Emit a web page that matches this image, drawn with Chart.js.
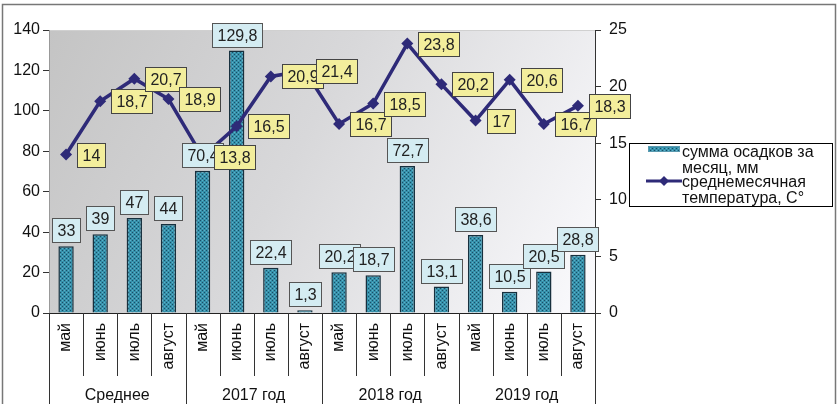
<!DOCTYPE html>
<html>
<head>
<meta charset="utf-8">
<script src="https://cdn.jsdelivr.net/npm/chart.js@4.4.0/dist/chart.umd.min.js"></script>
<style>
  html, body { margin: 0; padding: 0; background: #fff; }
  #wrap { position: relative; width: 838px; height: 404px; }
</style>
</head>
<body>
<div id="wrap"><canvas id="c" width="838" height="404"></canvas></div>
<script>
const categories = ['май','июнь','июль','август','май','июнь','июль','август','май','июнь','июль','август','май','июнь','июль','август'];
const groups = ['Среднее','2017 год','2018 год','2019 год'];
const groupSizes = [4, 4, 4, 4];
const precipitation = [33, 39, 47, 44, 70.4, 129.8, 22.4, 1.3, 20.2, 18.7, 72.7, 13.1, 38.6, 10.5, 20.5, 28.8];
const temperature = [14, 18.7, 20.7, 18.9, 13.8, 16.5, 20.9, 21.4, 16.7, 18.5, 23.8, 20.2, 17, 20.6, 16.7, 18.3];
const precipLabel = ['сумма осадков за', 'месяц, мм'];
const tempLabel = ['среднемесячная', 'температура, С°'];

const FONT = '"Liberation Sans", Arial, sans-serif';
const fmt = v => String(v).replace('.', ',');

// bar pattern
function makePattern() {
  const p = document.createElement('canvas');
  p.width = 4; p.height = 4;
  const g = p.getContext('2d');
  g.fillStyle = '#3590aa'; g.fillRect(0, 0, 4, 4);
  g.fillStyle = '#1a4e66';
  g.fillRect(0, 0, 1, 1); g.fillRect(2, 2, 1, 1);
  g.fillStyle = '#5fb0c8';
  g.fillRect(2, 0, 1, 1); g.fillRect(0, 2, 1, 1);
  return g.createPattern(p, 'repeat');
}
const ctx0 = document.getElementById('c').getContext('2d');
const barPattern = makePattern();

const bgPlugin = {
  id: 'bg',
  beforeDraw(chart) {
    const { ctx, chartArea: a } = chart;
    ctx.save();
    ctx.fillStyle = '#fff';
    ctx.fillRect(0, 0, chart.width, chart.height);
    const gr = ctx.createLinearGradient(a.left, a.top, a.right, a.bottom);
    gr.addColorStop(0, '#c4c4c4');
    gr.addColorStop(0.45, '#d8d8da');
    gr.addColorStop(1, '#fbfbfe');
    ctx.fillStyle = gr;
    ctx.fillRect(a.left, a.top, a.right - a.left, a.bottom - a.top);
    ctx.strokeStyle = '#d0d0d0';
    ctx.lineWidth = 1;
    ctx.beginPath();
    ctx.moveTo(a.left, a.top + 0.5); ctx.lineTo(a.right, a.top + 0.5);
    ctx.stroke();
    ctx.restore();
  }
};

const labelPlugin = {
  id: 'vlabels',
  afterDatasetsDraw(chart) {
    const ctx = chart.ctx;
    ctx.save();
    ctx.font = '16px ' + FONT;
    ctx.textAlign = 'center';
    ctx.textBaseline = 'middle';
    ctx.lineWidth = 1;
    const barMeta = chart.getDatasetMeta(1);
    barMeta.data.forEach((el, i) => {
      const t = fmt(precipitation[i]);
      const w = Math.round(ctx.measureText(t).width + 10);
      const h = 24;
      const left = Math.round(el.x - w / 2) + 0.5;
      const top = Math.round(el.y - 4 - h) + 0.5;
      ctx.fillStyle = '#d4ecf2';
      ctx.fillRect(left, top, w, h);
      ctx.strokeStyle = '#555';
      ctx.strokeRect(left, top, w, h);
      ctx.fillStyle = '#222';
      ctx.fillText(t, left + w / 2, top + h / 2 + 1);
    });
    const lineMeta = chart.getDatasetMeta(0);
    lineMeta.data.forEach((el, i) => {
      const t = fmt(temperature[i]);
      const w = Math.round(ctx.measureText(t).width + 10);
      const h = 24;
      const left = Math.round(el.x + 11) + 0.5;
      const top = Math.round(el.y - h / 2) + 0.5;
      ctx.fillStyle = '#f3ee9c';
      ctx.fillRect(left, top, w, h);
      ctx.strokeStyle = '#444';
      ctx.strokeRect(left, top, w, h);
      ctx.fillStyle = '#222';
      ctx.fillText(t, left + w / 2, top + h / 2 + 1);
    });
    ctx.restore();
  }
};

const framePlugin = {
  id: 'frame',
  afterDraw(chart) {
    const { ctx, chartArea: a } = chart;
    const n = categories.length;
    const cw = (a.right - a.left) / n;
    ctx.save();
    ctx.strokeStyle = '#333';
    ctx.lineWidth = 1;
    const groupBounds = [0];
    groupSizes.forEach(s => groupBounds.push(groupBounds[groupBounds.length - 1] + s));
    for (let i = 0; i <= n; i++) {
      const px = Math.round(a.left + i * cw) + 0.5;
      const isGroup = groupBounds.includes(i);
      ctx.beginPath();
      ctx.moveTo(px, a.bottom);
      ctx.lineTo(px, isGroup ? chart.height : a.bottom + 63);
      ctx.stroke();
    }
    ctx.font = '16px ' + FONT;
    ctx.fillStyle = '#111';
    ctx.textAlign = 'center';
    ctx.textBaseline = 'middle';
    groups.forEach((g, gi) => {
      const cx = a.left + (groupBounds[gi] + groupBounds[gi + 1]) / 2 * cw;
      ctx.fillText(g, cx, 396);
    });
    // legend
    const lx = 629.5, ly = 143.5, lw = 203, lh = 63;
    ctx.fillStyle = '#fff';
    ctx.fillRect(lx, ly, lw, lh);
    ctx.strokeStyle = '#000';
    ctx.strokeRect(lx, ly, lw, lh);
    ctx.fillStyle = barPattern;
    ctx.fillRect(648, 146, 32, 6);
    ctx.strokeStyle = '#5a9ab0';
    ctx.strokeRect(648.5, 146.5, 31, 5);
    ctx.fillStyle = '#111';
    ctx.textAlign = 'left';
    ctx.font = '16px ' + FONT;
    ctx.fillText(precipLabel[0], 682, 153);
    ctx.fillText(precipLabel[1], 682, 169);
    ctx.strokeStyle = '#2e2a78';
    ctx.lineWidth = 3;
    ctx.beginPath();
    ctx.moveTo(646, 181); ctx.lineTo(682, 181);
    ctx.stroke();
    ctx.fillStyle = '#2e2a78';
    ctx.beginPath();
    ctx.moveTo(664, 176); ctx.lineTo(669, 181); ctx.lineTo(664, 186); ctx.lineTo(659, 181);
    ctx.closePath(); ctx.fill();
    ctx.fillStyle = '#111';
    ctx.fillText(tempLabel[0], 682, 183);
    ctx.fillText(tempLabel[1], 682, 199);
    // outer frame
    ctx.strokeStyle = '#777';
    ctx.lineWidth = 1.5;
    ctx.beginPath();
    ctx.moveTo(2.5, chart.height); ctx.lineTo(2.5, 4.5); ctx.lineTo(835.5, 4.5); ctx.lineTo(835.5, chart.height);
    ctx.stroke();
    ctx.restore();
  }
};

new Chart(ctx0, {
  data: {
    labels: categories,
    datasets: [
      {
        type: 'line',
        label: tempLabel.join(' '),
        data: temperature,
        yAxisID: 'y1',
        borderColor: '#2e2a78',
        backgroundColor: '#2e2a78',
        borderWidth: 3.5,
        pointStyle: 'rectRot',
        pointRadius: 6,
        pointBorderWidth: 0,
        pointBackgroundColor: '#2e2a78',
        pointBorderColor: '#2e2a78',
        tension: 0,
        order: 0
      },
      {
        type: 'bar',
        label: precipLabel.join(' '),
        data: precipitation,
        yAxisID: 'y',
        backgroundColor: barPattern,
        borderColor: '#17303e',
        borderWidth: 1.5,
        barPercentage: 0.45,
        categoryPercentage: 1,
        order: 1
      }
    ]
  },
  options: {
    responsive: false,
    animation: false,
    devicePixelRatio: 1,
    layout: { padding: { top: 30, left: 0, right: 0, bottom: 0 } },
    plugins: { legend: { display: false }, tooltip: { enabled: false } },
    scales: {
      x: {
        type: 'category',
        offset: true,
        grid: { display: false, drawTicks: false },
        border: { display: true, color: '#222', width: 1 },
        ticks: {
          autoSkip: false, minRotation: 90, maxRotation: 90, padding: 10,
          color: '#111', font: { family: FONT, size: 16 }
        },
        afterFit(s) { s.height = 91; }
      },
      y: {
        position: 'left',
        min: 0, max: 140,
        ticks: { stepSize: 20, color: '#111', padding: 3, font: { family: FONT, size: 16 } },
        grid: { drawOnChartArea: false, drawTicks: true, tickLength: 6, color: '#333' },
        border: { display: true, color: '#999', width: 1 },
        afterFit(s) { s.width = 49; }
      },
      y1: {
        position: 'right',
        min: 0, max: 25,
        ticks: { stepSize: 5, color: '#111', padding: 8, font: { family: FONT, size: 16 } },
        grid: { drawOnChartArea: false, drawTicks: true, tickLength: 6, color: '#333' },
        border: { display: true, color: '#333', width: 1 },
        afterFit(s) { s.width = 243; }
      }
    }
  },
  plugins: [bgPlugin, labelPlugin, framePlugin]
});
</script>
</body>
</html>
